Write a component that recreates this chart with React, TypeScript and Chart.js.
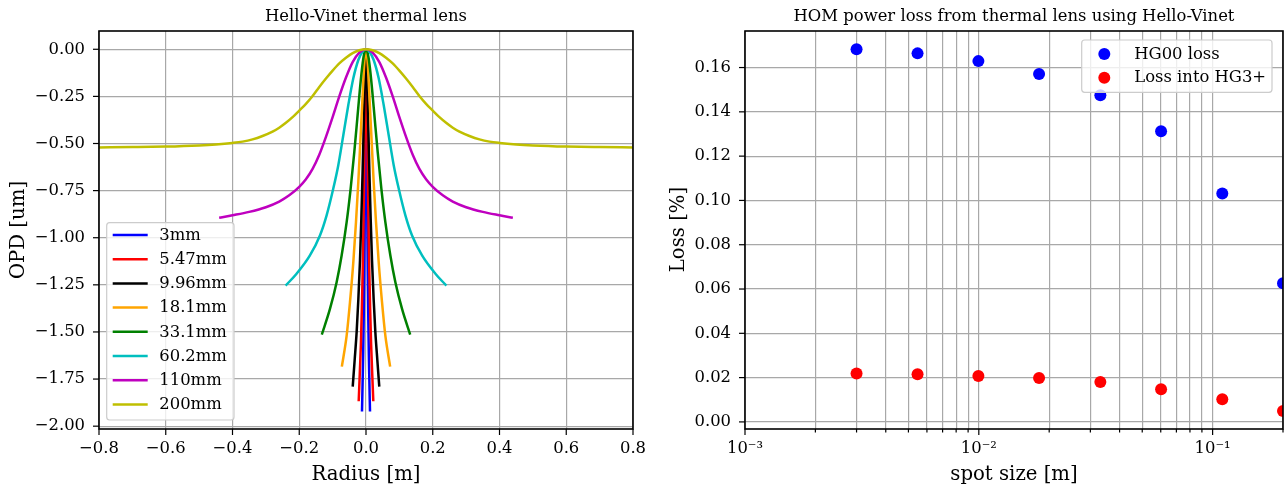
import React, { useEffect, useRef } from "react";
import { Chart, registerables } from "chart.js";

Chart.register(...registerables);

const FAMILY = '"DejaVu Serif", serif';
const GRID = "#a8a8a8";

// ---------- Left panel: OPD profiles ----------
const SPOT_LABELS = ["3mm", "5.47mm", "9.96mm", "18.1mm", "33.1mm", "60.2mm", "110mm", "200mm"];
const SPOT_COLORS = ["#0000ff", "#ff0000", "#000000", "#ffa500", "#008000", "#00bfbf", "#bf00bf", "#bfbf00"];

// half profiles (radius >= 0), mirrored for negative radius
const R_3MM = [0, 0.00075, 0.0015, 0.003, 0.0042, 0.0054, 0.0069, 0.0084, 0.0102, 0.012];
const OPD_3MM = [0, -0.13, -0.3, -0.69, -0.97, -1.2, -1.43, -1.61, -1.77, -1.922];
const R_547MM = [0, 0.0014, 0.0027, 0.0055, 0.0077, 0.0098, 0.0126, 0.0153, 0.0186, 0.0219];
const OPD_547MM = [0, -0.125, -0.29, -0.67, -0.94, -1.17, -1.39, -1.565, -1.72, -1.868];
const R_996MM = [0, 0.0025, 0.005, 0.01, 0.014, 0.018, 0.023, 0.028, 0.034, 0.0398];
const OPD_996MM = [0, -0.12, -0.28, -0.64, -0.9, -1.12, -1.33, -1.5, -1.65, -1.79];
const R_181MM = [0, 0.003, 0.006, 0.011, 0.017, 0.023, 0.03, 0.038, 0.048, 0.058, 0.0724];
const OPD_181MM = [0, -0.03, -0.101, -0.278, -0.491, -0.704, -0.917, -1.129, -1.342, -1.52, -1.684];
const R_331MM = [0, 0.005, 0.01, 0.018, 0.026, 0.035, 0.046, 0.058, 0.073, 0.088, 0.108, 0.1324];
const OPD_331MM = [0, -0.02, -0.074, -0.207, -0.367, -0.544, -0.739, -0.917, -1.094, -1.236, -1.378, -1.514];
const R_602MM = [0, 0.011, 0.023, 0.038, 0.053, 0.068, 0.083, 0.098, 0.118, 0.138, 0.168, 0.208, 0.2408];
const OPD_602MM = [0, -0.014, -0.057, -0.154, -0.296, -0.456, -0.615, -0.739, -0.881, -0.988, -1.094, -1.191, -1.254];
const R_110MM = [0, 0.02, 0.04, 0.06, 0.08, 0.1, 0.12, 0.14, 0.16, 0.18, 0.2, 0.23, 0.26, 0.3, 0.35, 0.4, 0.44];
const OPD_110MM = [0, -0.018, -0.068, -0.15, -0.25, -0.36, -0.465, -0.56, -0.635, -0.69, -0.73, -0.775, -0.808, -0.838, -0.863, -0.881, -0.894];
const R_200MM = [0, 0.02, 0.04, 0.06, 0.08, 0.1, 0.12, 0.14, 0.16, 0.18, 0.2, 0.22, 0.24, 0.26, 0.28, 0.31, 0.34, 0.37, 0.4, 0.45, 0.5, 0.6, 0.7, 0.8];
const OPD_200MM = [0, -0.005, -0.02, -0.045, -0.075, -0.113, -0.155, -0.2, -0.248, -0.29, -0.325, -0.36, -0.39, -0.416, -0.437, -0.46, -0.478, -0.49, -0.497, -0.505, -0.51, -0.516, -0.519, -0.521];

const RADII = [R_3MM, R_547MM, R_996MM, R_181MM, R_331MM, R_602MM, R_110MM, R_200MM];
const OPDS = [OPD_3MM, OPD_547MM, OPD_996MM, OPD_181MM, OPD_331MM, OPD_602MM, OPD_110MM, OPD_200MM];

const LEFT_X_TICKS = [-0.8, -0.6, -0.4, -0.2, 0, 0.2, 0.4, 0.6, 0.8];
const LEFT_X_LABELS = ["\u22120.8", "\u22120.6", "\u22120.4", "\u22120.2", "0.0", "0.2", "0.4", "0.6", "0.8"];
const LEFT_Y_TICKS = [-2, -1.75, -1.5, -1.25, -1, -0.75, -0.5, -0.25, 0];
const LEFT_Y_LABELS = ["\u22122.00", "\u22121.75", "\u22121.50", "\u22121.25", "\u22121.00", "\u22120.75", "\u22120.50", "\u22120.25", "0.00"];

// ---------- Right panel: losses ----------
const SPOT_SIZES = [0.003, 0.00547, 0.00996, 0.0181, 0.0331, 0.0602, 0.11, 0.2];
const HG00_LOSS = [0.1683, 0.1664, 0.1629, 0.1571, 0.1475, 0.1312, 0.1031, 0.0626];
const HG3_LOSS = [0.0219, 0.0215, 0.0207, 0.0198, 0.018, 0.0148, 0.0102, 0.0049];
const LOSS_LABELS = ["HG00 loss", "Loss into HG3+"];
const LOSS_COLORS = ["#0000ff", "#ff0000"];

const RIGHT_X_TICKS = [0.001, 0.002, 0.003, 0.004, 0.005, 0.006, 0.007, 0.008, 0.009, 0.01, 0.02, 0.03, 0.04, 0.05, 0.06, 0.07, 0.08, 0.09, 0.1, 0.2];
const RIGHT_X_MAJOR = [0.001, 0.01, 0.1];
const RIGHT_X_MAJOR_LABELS = ["10\u207B\u00B3", "10\u207B\u00B2", "10\u207B\u00B9"];
const RIGHT_Y_TICKS = [0, 0.02, 0.04, 0.06, 0.08, 0.1, 0.12, 0.14, 0.16];
const RIGHT_Y_LABELS = ["0.00", "0.02", "0.04", "0.06", "0.08", "0.10", "0.12", "0.14", "0.16"];

function mirrored(r: number[], v: number[]) {
  const pts: { x: number; y: number }[] = [];
  for (let i = r.length - 1; i > 0; i--) pts.push({ x: -r[i], y: v[i] });
  for (let i = 0; i < r.length; i++) pts.push({ x: r[i], y: v[i] });
  return pts;
}

type Decor = {
  id: string;
  title: string;
  titleX: number;
  xLabel: string;
  xLabelX: number;
  yLabel: string;
  yLabelX: number;
  yLabelY: number;
  isMinorX: (v: number) => boolean;
  legend: (ctx: CanvasRenderingContext2D, chart: any) => void;
};

function roundRect(ctx: CanvasRenderingContext2D, x: number, y: number, w: number, h: number, r: number) {
  ctx.beginPath();
  ctx.moveTo(x + r, y);
  ctx.lineTo(x + w - r, y);
  ctx.quadraticCurveTo(x + w, y, x + w, y + r);
  ctx.lineTo(x + w, y + h - r);
  ctx.quadraticCurveTo(x + w, y + h, x + w - r, y + h);
  ctx.lineTo(x + r, y + h);
  ctx.quadraticCurveTo(x, y + h, x, y + h - r);
  ctx.lineTo(x, y + r);
  ctx.quadraticCurveTo(x, y, x + r, y);
  ctx.closePath();
}

function decorPlugin(d: Decor) {
  return {
    id: d.id,
    afterDraw(chart: any) {
      const ctx: CanvasRenderingContext2D = chart.ctx;
      const a = chart.chartArea;
      const xs = chart.scales.x;
      const ys = chart.scales.y;
      ctx.save();
      ctx.strokeStyle = "#000";
      ctx.lineWidth = 1.2;
      xs.ticks.forEach((t: any) => {
        const px = xs.getPixelForValue(t.value);
        const len = d.isMinorX(t.value) ? 3.5 : 6;
        ctx.beginPath();
        ctx.moveTo(px, a.bottom);
        ctx.lineTo(px, a.bottom + len);
        ctx.stroke();
      });
      ys.ticks.forEach((t: any) => {
        const py = ys.getPixelForValue(t.value);
        ctx.beginPath();
        ctx.moveTo(a.left, py);
        ctx.lineTo(a.left - 6, py);
        ctx.stroke();
      });
      ctx.lineWidth = 1.6;
      ctx.strokeRect(a.left, a.top, a.right - a.left, a.bottom - a.top);
      d.legend(ctx, chart);
      ctx.fillStyle = "#000";
      ctx.textAlign = "center";
      ctx.textBaseline = "alphabetic";
      ctx.font = `16.4px ${FAMILY}`;
      ctx.fillText(d.title, d.titleX, 20.5);
      ctx.font = `19.7px ${FAMILY}`;
      ctx.fillText(d.xLabel, d.xLabelX, 479.5);
      ctx.translate(d.yLabelX, d.yLabelY);
      ctx.rotate(-Math.PI / 2);
      ctx.fillText(d.yLabel, 0, 0);
      ctx.restore();
    },
  };
}

function tickFont() {
  return { family: FAMILY, size: 16.4 };
}

const LEFT_W = 700;
const RIGHT_W = 650;

function LeftChart() {
  const ref = useRef<HTMLCanvasElement>(null);
  useEffect(() => {
    if (!ref.current) return;
    const decor = decorPlugin({
      id: "decorLeft",
      title: "Hello-Vinet thermal lens",
      titleX: 366,
      xLabel: "Radius [m]",
      xLabelX: 366,
      yLabel: "OPD [um]",
      yLabelX: 24,
      yLabelY: 230,
      isMinorX: () => false,
      legend: (ctx, chart) => {
        ctx.save();
        roundRect(ctx, 106.7, 222.7, 127.3, 197.3, 3);
        ctx.fillStyle = "rgba(255,255,255,0.8)";
        ctx.fill();
        ctx.strokeStyle = "#cccccc";
        ctx.lineWidth = 1.2;
        ctx.stroke();
        ctx.font = `16.4px ${FAMILY}`;
        ctx.textAlign = "left";
        ctx.textBaseline = "middle";
        chart.data.datasets.forEach((ds: any, i: number) => {
          const y = 235 + 24.2 * i;
          ctx.strokeStyle = ds.borderColor;
          ctx.lineWidth = 2.5;
          ctx.beginPath();
          ctx.moveTo(112.7, y);
          ctx.lineTo(147.7, y);
          ctx.stroke();
          ctx.fillStyle = "#000";
          ctx.fillText(ds.label, 159.3, y + 0.5);
        });
        ctx.restore();
      },
    });
    const chart = new Chart(ref.current, {
      type: "scatter",
      data: {
        datasets: SPOT_LABELS.map((label, i) => ({
          label,
          data: mirrored(RADII[i], OPDS[i]),
          showLine: true,
          borderColor: SPOT_COLORS[i],
          backgroundColor: SPOT_COLORS[i],
          borderWidth: 2.5,
          pointRadius: 0,
          cubicInterpolationMode: "monotone",
          order: SPOT_LABELS.length - i,
          clip: 0,
        })),
      },
      options: {
        animation: false,
        responsive: false,
        maintainAspectRatio: false,
        events: [],
        layout: { padding: { left: 0, right: LEFT_W - 633, top: 31, bottom: 0 } },
        plugins: { legend: { display: false }, tooltip: { enabled: false }, title: { display: false } },
        scales: {
          x: {
            type: "linear",
            min: -0.8,
            max: 0.8,
            bounds: "data",
            afterBuildTicks: (s: any) => {
              s.ticks = LEFT_X_TICKS.map((v) => ({ value: v }));
            },
            afterFit: (s: any) => {
              s.height = 60;
            },
            grid: { color: GRID, lineWidth: 1.2, drawTicks: false },
            border: { display: false },
            ticks: {
              autoSkip: false,
              maxRotation: 0,
              minRotation: 0,
              padding: 10,
              color: "#000",
              font: tickFont(),
              callback: (_v: any, i: number) => LEFT_X_LABELS[i],
            },
          },
          y: {
            type: "linear",
            min: -2.015,
            max: 0.097,
            bounds: "data",
            afterBuildTicks: (s: any) => {
              s.ticks = LEFT_Y_TICKS.map((v) => ({ value: v }));
            },
            afterFit: (s: any) => {
              s.width = 99;
            },
            grid: { color: GRID, lineWidth: 1.2, drawTicks: false },
            border: { display: false },
            ticks: {
              autoSkip: false,
              padding: 14,
              color: "#000",
              font: tickFont(),
              callback: (_v: any, i: number) => LEFT_Y_LABELS[i],
            },
          },
        },
      },
      plugins: [decor],
    } as any);
    return () => chart.destroy();
  }, []);
  return (
    <canvas
      ref={ref}
      width={LEFT_W}
      height={489}
      style={{ position: "absolute", left: 0, top: 0, width: LEFT_W, height: 489 }}
    />
  );
}

function RightChart() {
  const ref = useRef<HTMLCanvasElement>(null);
  useEffect(() => {
    if (!ref.current) return;
    const decor = decorPlugin({
      id: "decorRight",
      title: "HOM power loss from thermal lens using Hello-Vinet",
      titleX: 364,
      xLabel: "spot size [m]",
      xLabelX: 364,
      yLabel: "Loss [%]",
      yLabelX: 34,
      yLabelY: 229.5,
      isMinorX: (v) => !RIGHT_X_MAJOR.includes(v),
      legend: (ctx, chart) => {
        ctx.save();
        roundRect(ctx, 431.7, 40, 190.3, 52.3, 3);
        ctx.fillStyle = "rgba(255,255,255,0.8)";
        ctx.fill();
        ctx.strokeStyle = "#cccccc";
        ctx.lineWidth = 1.2;
        ctx.stroke();
        ctx.font = `16.4px ${FAMILY}`;
        ctx.textAlign = "left";
        ctx.textBaseline = "middle";
        chart.data.datasets.forEach((ds: any, i: number) => {
          const y = 54 + 23.7 * i;
          ctx.fillStyle = ds.backgroundColor;
          ctx.beginPath();
          ctx.arc(454.3, y, 6, 0, Math.PI * 2);
          ctx.fill();
          ctx.fillStyle = "#000";
          ctx.fillText(ds.label, 484.3, y + 0.5);
        });
        ctx.restore();
      },
    });
    const chart = new Chart(ref.current, {
      type: "scatter",
      data: {
        datasets: [HG00_LOSS, HG3_LOSS].map((vals, i) => ({
          label: LOSS_LABELS[i],
          data: SPOT_SIZES.map((x, j) => ({ x, y: vals[j] })),
          showLine: false,
          backgroundColor: LOSS_COLORS[i],
          borderColor: LOSS_COLORS[i],
          borderWidth: 0,
          pointRadius: 6,
          order: 2 - i,
          clip: 0,
        })),
      },
      options: {
        animation: false,
        responsive: false,
        maintainAspectRatio: false,
        events: [],
        layout: { padding: { left: 0, right: RIGHT_W - 633, top: 31, bottom: 0 } },
        plugins: { legend: { display: false }, tooltip: { enabled: false }, title: { display: false } },
        scales: {
          x: {
            type: "logarithmic",
            min: 0.001,
            max: 0.2,
            bounds: "data",
            afterBuildTicks: (s: any) => {
              s.ticks = RIGHT_X_TICKS.map((v) => ({ value: v, major: RIGHT_X_MAJOR.includes(v) }));
            },
            afterFit: (s: any) => {
              s.height = 60;
            },
            grid: { color: GRID, lineWidth: 1.2, drawTicks: false },
            border: { display: false },
            ticks: {
              autoSkip: false,
              maxRotation: 0,
              minRotation: 0,
              padding: 10,
              color: "#000",
              font: tickFont(),
              callback: (_v: any, i: number) => {
                const k = RIGHT_X_MAJOR.indexOf(RIGHT_X_TICKS[i]);
                return k >= 0 ? RIGHT_X_MAJOR_LABELS[k] : "";
              },
            },
          },
          y: {
            type: "linear",
            min: -0.0032,
            max: 0.1765,
            bounds: "data",
            afterBuildTicks: (s: any) => {
              s.ticks = RIGHT_Y_TICKS.map((v) => ({ value: v }));
            },
            afterFit: (s: any) => {
              s.width = 95;
            },
            grid: { color: GRID, lineWidth: 1.2, drawTicks: false },
            border: { display: false },
            ticks: {
              autoSkip: false,
              padding: 14,
              color: "#000",
              font: tickFont(),
              callback: (_v: any, i: number) => RIGHT_Y_LABELS[i],
            },
          },
        },
      },
      plugins: [decor],
    } as any);
    return () => chart.destroy();
  }, []);
  return (
    <canvas
      ref={ref}
      width={RIGHT_W}
      height={489}
      style={{ position: "absolute", left: 650, top: 0, width: RIGHT_W, height: 489 }}
    />
  );
}

export default function App() {
  return (
    <div
      style={{
        position: "fixed",
        left: 0,
        top: 0,
        width: 1285,
        height: 489,
        overflow: "hidden",
        background: "#ffffff",
      }}
    >
      <LeftChart />
      <RightChart />
    </div>
  );
}
